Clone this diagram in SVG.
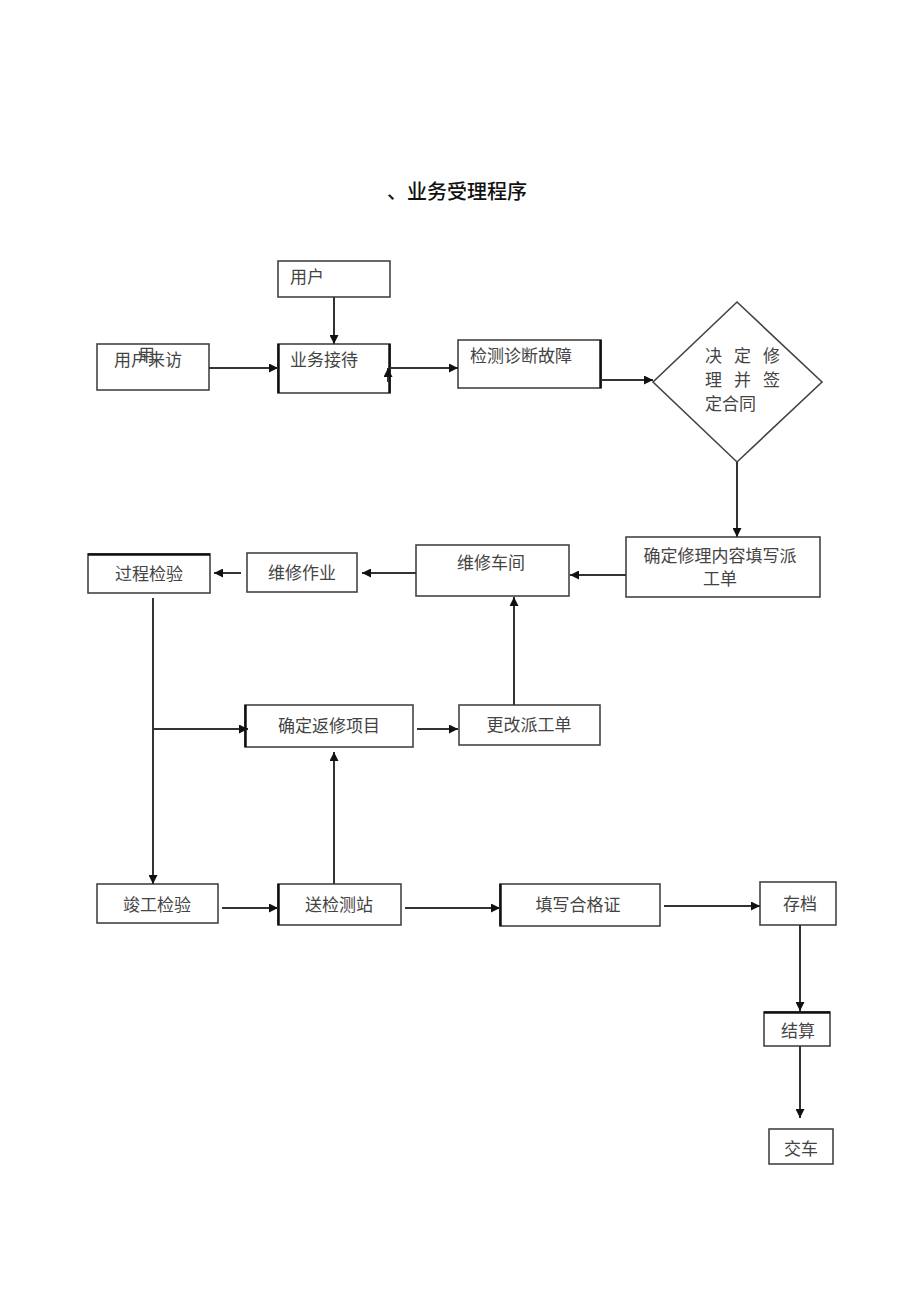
<svg xmlns="http://www.w3.org/2000/svg" width="920" height="1304" viewBox="0 0 920 1304">
<defs>
<marker id="ah" viewBox="0 0 10 10" refX="10" refY="5" markerWidth="10" markerHeight="9" markerUnits="userSpaceOnUse" orient="auto">
<path d="M0,0 L10,5 L0,10 z" fill="#111"/>
</marker>
<style>
.box{fill:#fff;stroke:#444;stroke-width:1.6}
.t{font-family:"Liberation Serif","Noto Sans CJK SC",serif;font-size:17px;fill:#444}
.c{stroke:#333;stroke-width:2;fill:none}
.a{marker-end:url(#ah)}
.thick{stroke:#111;stroke-width:2.5}
</style>
</defs>
<rect width="920" height="1304" fill="#fff"/>
<text x="457" y="199" text-anchor="middle" style="font-family:'Noto Sans CJK SC',sans-serif;font-size:20px;font-weight:500;fill:#111">、业务受理程序</text>

<g id="n_yonghu"><rect class="box" x="278" y="261" width="112" height="36"/><text class="t" x="290" y="283">用户</text></g>
<g id="n_laifang"><rect class="box" x="97" y="344" width="112" height="46"/><text class="t" x="114" y="366">用户来访</text><text class="t" x="138" y="361">用</text></g>
<g id="n_jiedai"><rect class="box" x="278" y="344" width="112" height="49"/><line class="thick" x1="278.5" y1="344" x2="278.5" y2="393"/><line class="thick" x1="389.5" y1="344" x2="389.5" y2="393"/><text class="t" x="290" y="366">业务接待</text></g>
<g id="n_jiance"><rect class="box" x="458" y="340" width="143" height="48"/><line class="thick" x1="600.5" y1="340" x2="600.5" y2="388"/><text class="t" x="470" y="362">检测诊断故障</text></g>
<g id="n_hetong"><path class="box" d="M737,302 L822,382 L737,462 L653,382 z"/><text class="t" y="362"><tspan x="705">决</tspan><tspan x="734">定</tspan><tspan x="763">修</tspan></text><text class="t" y="386"><tspan x="705">理</tspan><tspan x="734">并</tspan><tspan x="763">签</tspan></text><text class="t" x="705" y="410">定合同</text></g>
<g id="n_paigong"><rect class="box" x="626" y="537" width="194" height="60"/><text class="t" x="720" y="562" text-anchor="middle">确定修理内容填写派</text><text class="t" x="720" y="585" text-anchor="middle">工单</text></g>
<g id="n_chejian"><rect class="box" x="416" y="545" width="153" height="51"/><text class="t" x="491" y="569" text-anchor="middle">维修车间</text></g>
<g id="n_zuoye"><rect class="box" x="247" y="553" width="110" height="39"/><text class="t" x="302" y="579" text-anchor="middle">维修作业</text></g>
<g id="n_guocheng"><rect class="box" x="88" y="554" width="122" height="39"/><line class="thick" x1="88" y1="554.5" x2="210" y2="554.5"/><text class="t" x="149" y="580" text-anchor="middle">过程检验</text></g>
<g id="n_fanxiu"><rect class="box" x="245" y="705" width="168" height="42"/><line class="thick" x1="245.5" y1="705" x2="245.5" y2="747"/><text class="t" x="329" y="732" text-anchor="middle">确定返修项目</text></g>
<g id="n_genggai"><rect class="box" x="459" y="705" width="141" height="40"/><text class="t" x="529" y="731" text-anchor="middle">更改派工单</text></g>
<g id="n_jungong"><rect class="box" x="97" y="884" width="121" height="39"/><text class="t" x="157" y="911" text-anchor="middle">竣工检验</text></g>
<g id="n_songjian"><rect class="box" x="278" y="884" width="123" height="41"/><line class="thick" x1="278.5" y1="884" x2="278.5" y2="925"/><text class="t" x="339" y="911" text-anchor="middle">送检测站</text></g>
<g id="n_hege"><rect class="box" x="500" y="884" width="160" height="42"/><line class="thick" x1="500.5" y1="884" x2="500.5" y2="926"/><text class="t" x="578" y="911" text-anchor="middle">填写合格证</text></g>
<g id="n_cundang"><rect class="box" x="760" y="882" width="76" height="43"/><text class="t" x="800" y="910" text-anchor="middle">存档</text></g>
<g id="n_jiesuan"><rect class="box" x="764" y="1012" width="66" height="34"/><line class="thick" x1="764" y1="1012.5" x2="830" y2="1012.5"/><text class="t" x="798" y="1037" text-anchor="middle">结算</text></g>
<g id="n_jiaoche"><rect class="box" x="769" y="1129" width="64" height="35"/><text class="t" x="801" y="1155" text-anchor="middle">交车</text></g>

<g id="connectors">
<line class="c a" x1="334" y1="297" x2="334" y2="344"/>
<line class="c a" x1="209" y1="368" x2="278" y2="368"/>
<line class="c a" x1="388" y1="382" x2="388" y2="368"/>
<line class="c a" x1="390" y1="368" x2="458" y2="368"/>
<line class="c a" x1="601" y1="380" x2="653" y2="380"/>
<line class="c a" x1="737" y1="462" x2="737" y2="537"/>
<line class="c a" x1="626" y1="575" x2="570" y2="575"/>
<line class="c a" x1="416" y1="573" x2="362" y2="573"/>
<line class="c a" x1="241" y1="573" x2="214" y2="573"/>
<line class="c a" x1="153" y1="598" x2="153" y2="884"/>
<line class="c a" x1="153" y1="729" x2="248" y2="729"/>
<line class="c a" x1="417" y1="729" x2="458" y2="729"/>
<line class="c a" x1="514" y1="705" x2="514" y2="597"/>
<line class="c a" x1="222" y1="908" x2="278" y2="908"/>
<line class="c a" x1="334" y1="884" x2="334" y2="752"/>
<line class="c a" x1="405" y1="908" x2="500" y2="908"/>
<line class="c a" x1="664" y1="906" x2="760" y2="906"/>
<line class="c a" x1="800" y1="925" x2="800" y2="1011"/>
<line class="c a" x1="800" y1="1046" x2="800" y2="1118"/>
</g>
</svg>
